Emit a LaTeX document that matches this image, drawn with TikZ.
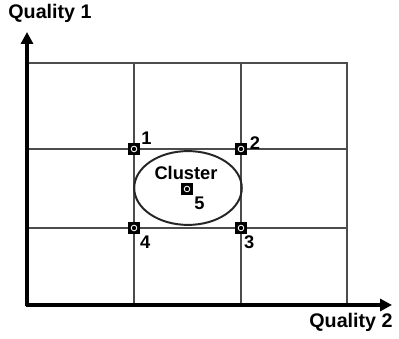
\documentclass[tikz,border=0pt]{standalone}
\usepackage{fontspec}
\setmainfont{Liberation Sans}
\usetikzlibrary{calc, positioning, arrows.meta, shapes.geometric}

\begin{document}
\begin{tikzpicture}[x=0.025cm, y=-0.025cm,
  axis/.style={line width=2.9pt, -{Triangle[length=8.5pt, width=8.5pt]}},
  gridline/.style={draw=black!70, line width=1.1pt},
  sample/.style={draw=black, fill=black, line width=0.6pt, minimum size=7.6pt,
                 inner sep=0pt, rectangle},
  numlabel/.style={font=\fontsize{13}{15}\selectfont\bfseries, inner sep=0pt},
  axislabel/.style={font=\fontsize{14}{16}\selectfont\bfseries, inner sep=0pt},
]
\useasboundingbox (0,0) rectangle (399,339);

% grid
\draw[gridline] (27,63) -- (347,63) -- (347,305);
\foreach \gx in {134,241} \draw[gridline] (\gx,63) -- (\gx,305);
\foreach \gy in {149,228} \draw[gridline] (27,\gy) -- (347,\gy);

% axes
\coordinate (origin) at (27,305);
\coordinate (ytip) at (27,32);
\coordinate (xtip) at (392,305);
\draw[axis] ($(origin)+(0,1.4)$) -- (ytip);
\draw[axis] ($(origin)+(-1.4,0)$) -- (xtip);
\node[axislabel] (q1) at (50,13) {Quality 1};
\node[axislabel] (q2) at (351,322) {Quality 2};

% cluster
\node[draw=black!85, line width=1.4pt, ellipse, minimum width=76.5pt, minimum height=52.5pt,
      inner sep=0pt] (cluster) at (188,188) {};
\node[font=\fontsize{13}{15}\selectfont\bfseries, inner sep=0pt] (clustertext) at (186,173) {Cluster};

% samples
\foreach \name/\px/\py in {s1/134/149, s2/241/149, s3/241/228, s4/134/228, s5/187/189} {
  \node[sample] (\name) at (\px,\py) {};
  \fill[black, draw=white, line width=0.6pt] (\name.center) circle (2pt);
}
\node[numlabel, above right=-1pt and 1pt of s1] (n1) {1};
\node[numlabel, right=2pt of s2, yshift=4pt] (n2) {2};
\node[numlabel, below right=1pt and -2pt of s3] (n3) {3};
\node[numlabel, below right=1pt and 0pt of s4] (n4) {4};
\node[numlabel, below right=1pt and 1pt of s5] (n5) {5};
\end{tikzpicture}
\end{document}
